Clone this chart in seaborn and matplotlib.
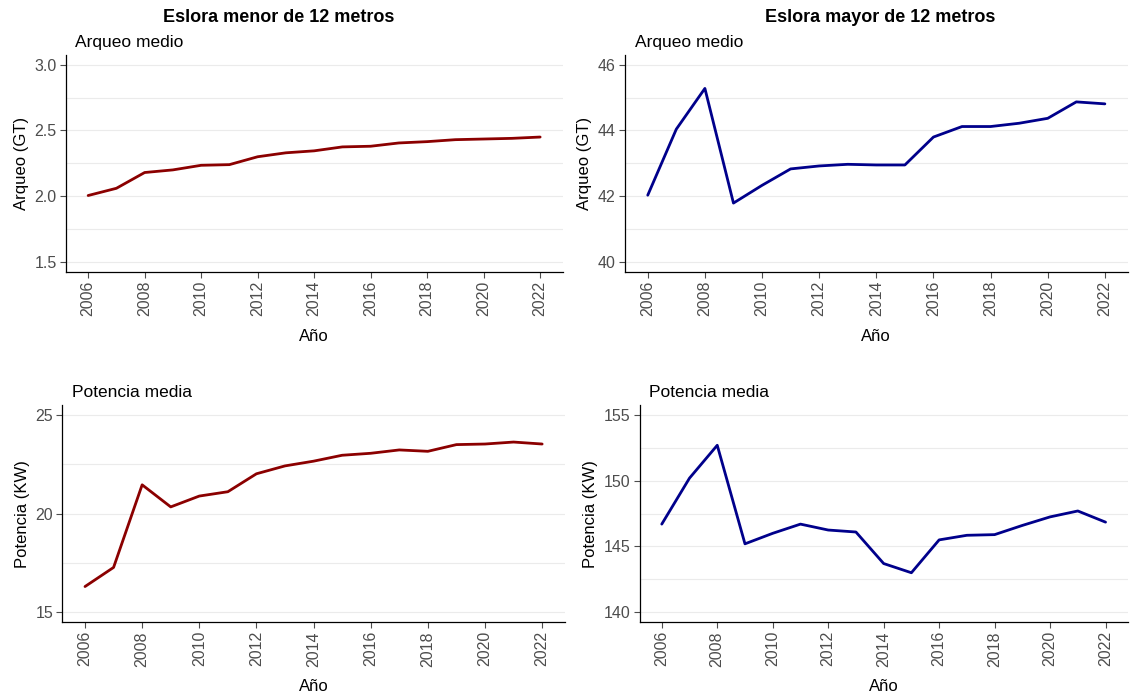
import pandas as pd
import matplotlib.pyplot as plt
import seaborn as sns

# Datos
anios = list(range(2006, 2023))

arqueo_menor = [2.005, 2.06, 2.18, 2.20, 2.235, 2.24, 2.30, 2.33, 2.345,
                2.375, 2.38, 2.405, 2.415, 2.43, 2.435, 2.44, 2.45]
arqueo_mayor = [42.03, 44.04, 45.28, 41.79, 42.33, 42.83, 42.92, 42.97, 42.95,
                42.95, 43.80, 44.12, 44.12, 44.22, 44.37, 44.87, 44.81]
potencia_menor = [16.30, 17.27, 21.46, 20.34, 20.89, 21.11, 22.02, 22.42, 22.66,
                  22.96, 23.06, 23.23, 23.16, 23.50, 23.53, 23.63, 23.53]
potencia_mayor = [146.7, 150.2, 152.7, 145.2, 146.0, 146.7, 146.25, 146.1, 143.7,
                  143.0, 145.5, 145.85, 145.9, 146.6, 147.25, 147.7, 146.85]

titulos_col = ["Eslora menor de 12 metros", "Eslora mayor de 12 metros"]

sns.set_theme(style="white")
plt.rcParams['font.family'] = ['Liberation Sans', 'DejaVu Sans']
plt.rcParams['text.color'] = 'black'
plt.rcParams['axes.labelcolor'] = 'black'

fig = plt.figure(figsize=(11.3, 6.95), dpi=100)

# posiciones de los paneles [izq, abajo, ancho, alto] en fracción de figura
paneles = [
    ([0.058, 0.609, 0.440, 0.312], arqueo_menor, "#8B0000", "Arqueo medio", "Arqueo (GT)", [1.5, 2.0, 2.5, 3.0], (1.425, 3.075), "{:.1f}"),
    ([0.553, 0.609, 0.445, 0.312], arqueo_mayor, "#00008B", "Arqueo medio", "Arqueo (GT)", [40, 42, 44, 46], (39.7, 46.3), "{:.0f}"),
    ([0.055, 0.105, 0.445, 0.312], potencia_menor, "#8B0000", "Potencia media", "Potencia (KW)", [15, 20, 25], (14.5, 25.5), "{:.0f}"),
    ([0.566, 0.105, 0.432, 0.312], potencia_mayor, "#00008B", "Potencia media", "Potencia (KW)", [140, 145, 150, 155], (139.25, 155.75), "{:.0f}"),
]

for rect, valores, color, titulo, ylab, yticks, ylim, fmt in paneles:
    ax = fig.add_axes(rect)
    df = pd.DataFrame({"Año": anios, "valor": valores})
    sns.lineplot(data=df, x="Año", y="valor", color=color, linewidth=2.0, ax=ax)

    # líneas de rejilla horizontales (mayores y menores)
    paso = yticks[1] - yticks[0]
    menores = [t + paso / 2 for t in yticks[:-1]]
    for g in yticks + menores:
        ax.axhline(g, color="#EBEBEB", linewidth=0.8, zorder=0)

    ax.set_ylim(*ylim)
    ax.set_xlim(2005.2, 2022.8)
    ax.set_yticks(yticks)
    ax.set_yticklabels([fmt.format(t) for t in yticks])
    ax.set_xticks(range(2006, 2023, 2))
    ax.tick_params(axis="x", labelrotation=90)
    ax.tick_params(colors="#4D4D4D", labelsize=11.5, length=4, width=0.8,
                   bottom=True, left=True, pad=2.5)
    for lbl in ax.get_xticklabels() + ax.get_yticklabels():
        lbl.set_color("#4D4D4D")

    ax.set_xlabel("Año", fontsize=12, color="black", labelpad=9)
    ax.set_ylabel(ylab, fontsize=12, color="black", labelpad=4)
    ax.set_title(titulo, loc="left", fontsize=12.5, pad=6, x=0.02, color="black")

    for lado in ["top", "right"]:
        ax.spines[lado].set_visible(False)
    for lado in ["left", "bottom"]:
        ax.spines[lado].set_color("black")
        ax.spines[lado].set_linewidth(0.9)

fig.text(0.2465, 0.975, titulos_col[0], ha="center", va="center",
         fontsize=13, fontweight="bold", color="black")
fig.text(0.779, 0.975, titulos_col[1], ha="center", va="center",
         fontsize=13, fontweight="bold", color="black")

fig.savefig("out.png", dpi=100, facecolor="white")
